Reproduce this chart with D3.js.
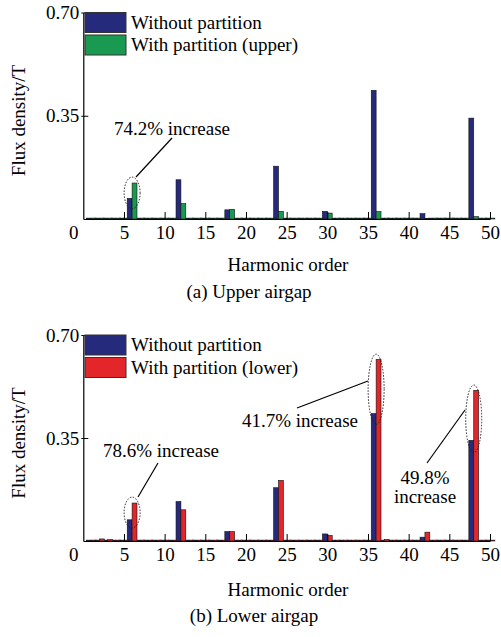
<!DOCTYPE html>
<html>
<head>
<meta charset="utf-8">
<script src="https://cdn.jsdelivr.net/npm/d3@7"></script>
<style>
body { margin: 0; background: #fff; }
text { font-family: "Liberation Serif", "Times New Roman", serif; }
</style>
</head>
<body>
<div id="chart"></div>
<script>
// harmonic orders 1..50
var orders = d3.range(1, 51);
// (a) upper airgap
var upperWithout = [0.003,0.003,0.003,0.003,0.003,0.070,0.003,0.003,0.003,0.003,0.003,0.133,0.003,0.003,0.003,0.003,0.003,0.031,0.003,0.003,0.003,0.003,0.003,0.179,0.003,0.003,0.003,0.003,0.003,0.026,0.003,0.003,0.003,0.003,0.003,0.436,0.003,0.003,0.003,0.003,0.003,0.018,0.003,0.003,0.003,0.003,0.003,0.342,0.003,0.003];
var upperWith    = [0.003,0.003,0.003,0.003,0.003,0.122,0.003,0.003,0.003,0.003,0.003,0.052,0.003,0.003,0.003,0.003,0.003,0.033,0.003,0.003,0.003,0.003,0.003,0.026,0.003,0.003,0.003,0.003,0.003,0.020,0.003,0.003,0.003,0.003,0.003,0.025,0.003,0.003,0.003,0.003,0.003,0.002,0.003,0.003,0.003,0.003,0.003,0.008,0.003,0.003];
// (b) lower airgap
var lowerWithout = [0.003,0.003,0.003,0.003,0.003,0.072,0.003,0.003,0.003,0.003,0.003,0.134,0.003,0.003,0.003,0.003,0.003,0.032,0.003,0.003,0.003,0.003,0.003,0.181,0.003,0.003,0.003,0.003,0.003,0.024,0.003,0.003,0.003,0.003,0.003,0.433,0.003,0.003,0.003,0.003,0.003,0.013,0.003,0.003,0.003,0.003,0.003,0.342,0.003,0.003];
var lowerWith    = [0.003,0.007,0.005,0.003,0.003,0.129,0.003,0.003,0.003,0.003,0.003,0.106,0.003,0.003,0.003,0.003,0.003,0.032,0.003,0.003,0.003,0.003,0.003,0.206,0.003,0.003,0.003,0.003,0.003,0.019,0.003,0.003,0.003,0.003,0.003,0.617,0.005,0.003,0.003,0.003,0.003,0.030,0.003,0.003,0.003,0.003,0.003,0.512,0.003,0.003];

var xTicks = [0, 5, 10, 15, 20, 25, 30, 35, 40, 45, 50];
var yTicks = [0.35, 0.70];

var W = 501, H = 637;
var svg = d3.select("#chart").append("svg").attr("width", W).attr("height", H);

var x = d3.scaleLinear().domain([0, 50]).range([83.3, 490]);
var barW = 0.6;

function drawPanel(p) {
	var y = d3.scaleLinear().domain([0, 0.70]).range([p.base, p.top]);
	var g = svg.append("g");

	// bars, "without" on the left of the order, "with" on the right
	g.selectAll(".b1").data(orders).enter().append("rect")
		.attr("x", function(d) { return x(d - barW); })
		.attr("width", x(barW) - x(0))
		.attr("y", function(d, i) { return y(p.without[i]); })
		.attr("height", function(d, i) { return y(0) - y(p.without[i]); })
		.attr("fill", "#262a7c").attr("stroke", "#111").attr("stroke-width", 0.6);
	g.selectAll(".b2").data(orders).enter().append("rect")
		.attr("x", function(d) { return x(d); })
		.attr("width", x(barW) - x(0))
		.attr("y", function(d, i) { return y(p.withP[i]); })
		.attr("height", function(d, i) { return y(0) - y(p.withP[i]); })
		.attr("fill", p.color).attr("stroke", "#111").attr("stroke-width", 0.6);

	// axes
	var xa = g.append("g").attr("transform", "translate(0," + y(0) + ")")
		.call(d3.axisBottom(x).tickValues(xTicks).tickSizeInner(-7).tickSizeOuter(0).tickPadding(7).tickFormat(d3.format("d")));
	xa.selectAll("text").attr("font-size", 19).attr("fill", "#000")
		.attr("dx", function(d) { return d === 0 ? -10 : 0; });
	xa.selectAll("line").filter(function(d) { return d === 0; }).remove();
	var ya = g.append("g").attr("transform", "translate(" + x(0) + ",0)")
		.call(d3.axisLeft(y).tickValues(yTicks).tickSizeInner(-5).tickSizeOuter(0).tickPadding(4).tickFormat(d3.format(".2f")));
	ya.selectAll("text").attr("font-size", 19).attr("fill", "#000");
	// short outer stub of the y ticks
	ya.selectAll(".tick").append("line").attr("x1", -2).attr("x2", 0).attr("stroke", "#000");
	g.selectAll(".domain").attr("stroke", "#000").attr("stroke-width", 1.2);

	// legend
	var legend = [["Without partition", "#262a7c"], [p.label, p.color]];
	legend.forEach(function(l, i) {
		g.append("rect").attr("x", 85).attr("y", p.top + i * 22.5)
			.attr("width", 41).attr("height", 20)
			.attr("fill", l[1]).attr("stroke", "#333").attr("stroke-width", 1);
		g.append("text").attr("x", 131).attr("y", p.top + 16 + i * 22.5)
			.attr("font-size", 19).text(l[0]);
	});

	// axis titles
	g.append("text").attr("transform", "translate(25," + (p.top + 108) + ") rotate(-90)")
		.attr("text-anchor", "middle").attr("font-size", 19).text("Flux density/T");
	g.append("text").attr("x", 288).attr("y", p.base + p.titleDy)
		.attr("text-anchor", "middle").attr("font-size", 19).text("Harmonic order");
	g.append("text").attr("x", p.capX).attr("y", p.base + p.capDy)
		.attr("text-anchor", "middle").attr("font-size", 19).text(p.caption);

	// annotations
	p.notes.forEach(function(n) {
		g.append("ellipse").attr("cx", x(n.h)).attr("cy", (y(n.v1) + y(n.v0)) / 2)
			.attr("rx", 8).attr("ry", (y(n.v0) - y(n.v1)) / 2)
			.attr("fill", "none").attr("stroke", "#222").attr("stroke-width", 1).attr("stroke-dasharray", "1.5,1.5");
		g.append("line").attr("x1", n.l[0]).attr("y1", n.l[1]).attr("x2", n.l[2]).attr("y2", n.l[3])
			.attr("stroke", "#000").attr("stroke-width", 1.2);
		var t = g.append("text").attr("x", n.tx).attr("y", n.ty)
			.attr("text-anchor", "middle").attr("font-size", 19);
		n.text.forEach(function(s, k) {
			t.append("tspan").attr("x", n.tx).attr("dy", k ? 19 : 0).text(s);
		});
	});
}

drawPanel({
	top: 12.5, base: 219, without: upperWithout, withP: upperWith,
	color: "#1a9a50", label: "With partition (upper)", caption: "(a) Upper airgap", capX: 249,
	titleDy: 52, capDy: 79,
	notes: [
		{h: 6, v0: 0.035, v1: 0.142, l: [136, 177, 172, 138], tx: 172, ty: 135, text: ["74.2% increase"]}
	]
});
drawPanel({
	top: 335, base: 541, without: lowerWithout, withP: lowerWith,
	color: "#e2262a", label: "With partition (lower)", caption: "(b) Lower airgap", capX: 254,
	titleDy: 55, capDy: 81,
	notes: [
		{h: 6, v0: 0.044, v1: 0.149, l: [138, 497, 158, 463], tx: 161, ty: 457, text: ["78.6% increase"]},
		{h: 36, v0: 0.396, v1: 0.635, l: [297, 408, 368, 381], tx: 300, ty: 427, text: ["41.7% increase"]},
		{h: 48, v0: 0.300, v1: 0.530, l: [427, 463, 465, 410], tx: 425, ty: 484, text: ["49.8%", "increase"]}
	]
});
</script>
</body>
</html>
